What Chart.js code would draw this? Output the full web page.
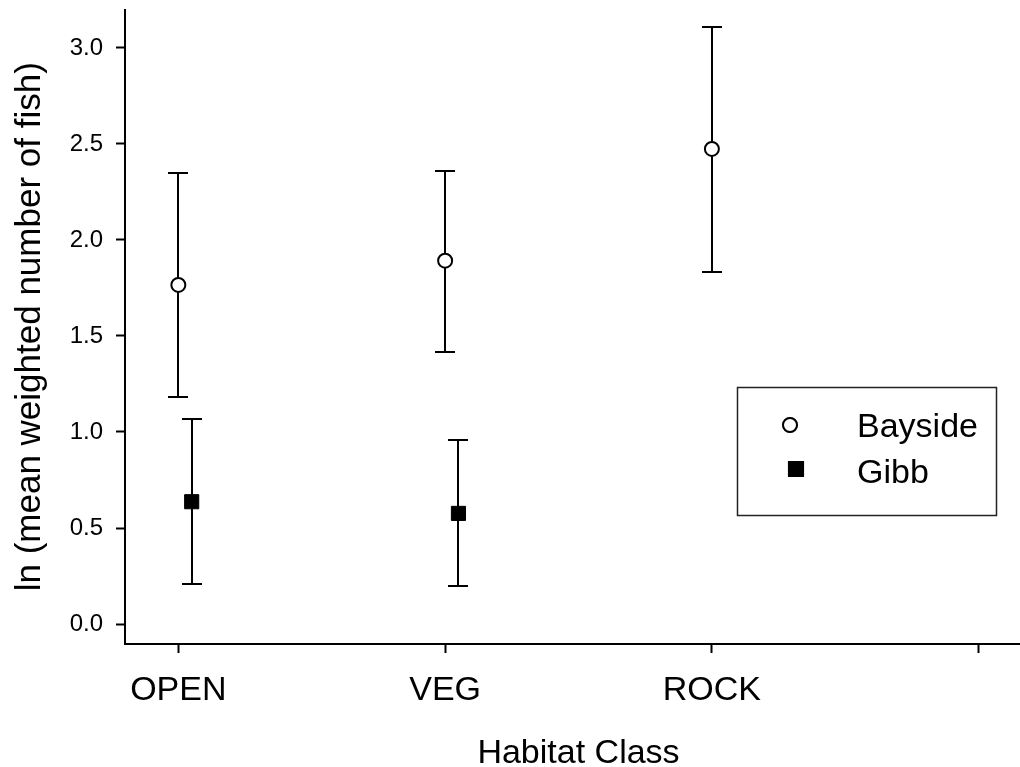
<!DOCTYPE html>
<html>
<head>
<meta charset="utf-8">
<script src="https://cdn.jsdelivr.net/npm/chart.js@4/dist/chart.umd.min.js"></script>
<style>
  html, body { margin: 0; padding: 0; background: #fff; overflow: hidden; }
</style>
</head>
<body>
<canvas id="chart" width="1020" height="767"></canvas>
<script>
"use strict";

// Habitat categories (x = 1, 2, 3, 4); the 4th tick has no label.
const CATEGORIES = ["OPEN", "VEG", "ROCK", ""];
const Y_TICKS = [0, 0.5, 1.0, 1.5, 2.0, 2.5, 3.0];

// Bayside: mean with lower/upper error bar ends.
const BAYSIDE_MEAN = [1.766, 1.892, 2.474];
const BAYSIDE_LOW = [1.184, 1.417, 1.835];
const BAYSIDE_HIGH = [2.347, 2.361, 3.111];

// Gibb: no ROCK sample.
const GIBB_MEAN = [0.637, 0.576, null];
const GIBB_LOW = [0.207, 0.198, null];
const GIBB_HIGH = [1.069, 0.958, null];

// Gibb symbols are nudged right of the category tick.
const GIBB_SHIFT = 0.05;

// The axis runs 0.8..4.2 in the source figure; the page crops it near 4.155.
const X_MIN = 0.8;
const X_MAX = 4.155;
const X_TITLE_AT = 2.5;

const FONT = "'Liberation Sans', Arial, sans-serif";

function points(means, lows, highs, shift) {
  const out = [];
  means.forEach((m, i) => {
    if (m == null) return;
    out.push({ x: i + 1 + shift, y: m, lo: lows[i], hi: highs[i] });
  });
  return out;
}

// Vertical error bars with caps, drawn under the symbols.
const errorBars = {
  id: "errorBars",
  beforeDatasetsDraw(chart) {
    const { ctx, scales: { x, y } } = chart;
    ctx.save();
    ctx.strokeStyle = "#000";
    ctx.lineWidth = 2;
    for (const ds of chart.data.datasets) {
      for (const p of ds.data) {
        const px = Math.round(x.getPixelForValue(p.x));
        const top = Math.round(y.getPixelForValue(p.hi));
        const bot = Math.round(y.getPixelForValue(p.lo));
        ctx.beginPath();
        ctx.moveTo(px, top);
        ctx.lineTo(px, bot);
        ctx.moveTo(px - 10, top);
        ctx.lineTo(px + 10, top);
        ctx.moveTo(px - 10, bot);
        ctx.lineTo(px + 10, bot);
        ctx.stroke();
      }
    }
    ctx.restore();
  },
};

// x title centred on the full (uncropped) axis, plus the boxed legend.
const extras = {
  id: "extras",
  afterDraw(chart) {
    const { ctx, scales: { x } } = chart;
    ctx.save();
    ctx.fillStyle = "#000";
    ctx.font = `34px ${FONT}`;
    ctx.textAlign = "center";
    ctx.textBaseline = "alphabetic";
    ctx.fillText("Habitat Class", x.getPixelForValue(X_TITLE_AT), 763);

    ctx.strokeStyle = "#222";
    ctx.lineWidth = 1.5;
    ctx.strokeRect(737.5, 387.5, 259, 128);
    const rows = [
      { ds: chart.data.datasets[0], sx: 790, sy: 425, r: 7, ty: 437 },
      { ds: chart.data.datasets[1], sx: 796, sy: 469, r: 10, ty: 483 },
    ];
    ctx.textAlign = "left";
    for (const row of rows) {
      Chart.helpers.drawPoint(ctx, {
        pointStyle: row.ds.pointStyle,
        radius: row.r,
        borderWidth: row.ds.borderWidth,
      }, row.sx, row.sy);
      ctx.fillStyle = row.ds.backgroundColor;
      ctx.strokeStyle = "#000";
      ctx.lineWidth = row.ds.borderWidth;
      ctx.fill();
      ctx.stroke();
      ctx.fillStyle = "#000";
      ctx.fillText(row.ds.label, 857, row.ty);
    }
    ctx.restore();
  },
};

new Chart(document.getElementById("chart"), {
  type: "scatter",
  data: {
    datasets: [
      {
        label: "Bayside",
        data: points(BAYSIDE_MEAN, BAYSIDE_LOW, BAYSIDE_HIGH, 0),
        pointStyle: "circle",
        pointRadius: 7,
        borderWidth: 2,
        borderColor: "#000",
        backgroundColor: "#fff",
      },
      {
        label: "Gibb",
        data: points(GIBB_MEAN, GIBB_LOW, GIBB_HIGH, GIBB_SHIFT),
        pointStyle: "rect",
        pointRadius: 10,
        borderWidth: 1,
        borderColor: "#000",
        backgroundColor: "#000",
      },
    ],
  },
  options: {
    responsive: false,
    animation: false,
    devicePixelRatio: 1,
    layout: { autoPadding: false, padding: { top: 9.5, left: 0, right: 0, bottom: 0 } },
    plugins: {
      legend: { display: false },
      tooltip: { enabled: false },
    },
    elements: { point: { hoverRadius: 7 } },
    scales: {
      x: {
        type: "linear",
        min: X_MIN,
        max: X_MAX,
        afterBuildTicks: (s) => { s.ticks = CATEGORIES.map((_, i) => ({ value: i + 1 })); },
        afterFit: (s) => { s.height = 123; s.paddingLeft = 0; s.paddingRight = 0; },
        ticks: {
          color: "#000",
          font: { family: FONT, size: 34 },
          padding: 17,
          maxRotation: 0,
          callback: (v) => CATEGORIES[Math.round(v) - 1] ?? "",
        },
        grid: { drawOnChartArea: false, drawTicks: true, tickLength: 9, tickWidth: 2, tickColor: "#000" },
        border: { display: true, color: "#000", width: 2 },
      },
      y: {
        type: "linear",
        min: -0.104,
        max: 3.2,
        afterBuildTicks: (s) => { s.ticks = Y_TICKS.map((v) => ({ value: v })); },
        afterFit: (s) => { s.width = 125; s.paddingTop = 0; s.paddingBottom = 0; },
        ticks: {
          color: "#000",
          font: { family: FONT, size: 24 },
          padding: 13,
          callback: (v) => v.toFixed(1),
        },
        grid: { drawOnChartArea: false, drawTicks: true, tickLength: 9, tickWidth: 2, tickColor: "#000" },
        border: { display: true, color: "#000", width: 2 },
        title: {
          display: true,
          text: "ln (mean weighted number of fish)",
          color: "#000",
          font: { family: FONT, size: 35, lineHeight: 1.2 },
          padding: { top: 9, bottom: 0 },
        },
      },
    },
  },
  plugins: [errorBars, extras],
});
</script>
</body>
</html>
